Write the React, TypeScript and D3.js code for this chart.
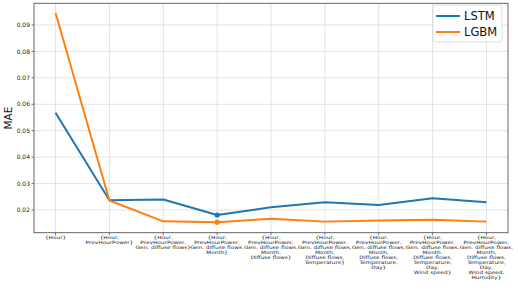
import React from "react";
import { scaleLinear, line } from "d3";

// feature sets (x tick labels, one line per row)
const featureSets = [
  ["{Hour}"],
  ["{Hour,", "PrevHourPower}"],
  ["{Hour,", "PrevHourPower,", "Gen. diffuse flows}"],
  ["{Hour,", "PrevHourPower,", "Gen. diffuse flows,", "Month}"],
  ["{Hour,", "PrevHourPower,", "Gen. diffuse flows,", "Month,", "Diffuse flows}"],
  ["{Hour,", "PrevHourPower,", "Gen. diffuse flows,", "Month,", "Diffuse flows,", "Temperature}"],
  ["{Hour,", "PrevHourPower,", "Gen. diffuse flows,", "Month,", "Diffuse flows,", "Temperature,", "Day}"],
  ["{Hour,", "PrevHourPower,", "Gen. diffuse flows,", "Month,", "Diffuse flows,", "Temperature,", "Day,", "Wind speed}"],
  ["{Hour,", "PrevHourPower,", "Gen. diffuse flows,", "Month,", "Diffuse flows,", "Temperature,", "Day,", "Wind speed,", "Humidity}"],
];

const lstm = [0.0568, 0.0237, 0.024, 0.0181, 0.021, 0.0229, 0.0219, 0.0244, 0.0229];
const lgbm = [0.0945, 0.0236, 0.0157, 0.0154, 0.0167, 0.0156, 0.016, 0.0163, 0.0156];
const yTicks = [0.02, 0.03, 0.04, 0.05, 0.06, 0.07, 0.08, 0.09];
const markerIndex = 3;

const W = 518;
const H = 300;
const left = 34, right = 508, top = 3.3, bottom = 232.7;

export default function App() {
  const x = scaleLinear().domain([-0.4, featureSets.length - 1 + 0.4]).range([left, right]);
  const y = scaleLinear().domain([0.01141, 0.0982]).range([bottom, top]);

  const path = line<number>()
    .x((d, i) => x(i))
    .y(d => y(d));

  const series = [
    { name: "LSTM", values: lstm, color: "#1f77b4" },
    { name: "LGBM", values: lgbm, color: "#ff7f0e" },
  ];

  const font = "DejaVu Sans, sans-serif";

  return (
    <svg width={W} height={H} style={{ position: "absolute", left: 0, top: 0, background: "#fff" }} fontFamily={font}>
      {/* grid */}
      <g stroke="#dcdcdc" strokeWidth={0.8}>
        {featureSets.map((_, i) => (
          <line key={"gx" + i} x1={x(i)} x2={x(i)} y1={top} y2={bottom} />
        ))}
        {yTicks.map(t => (
          <line key={"gy" + t} x1={left} x2={right} y1={y(t)} y2={y(t)} />
        ))}
      </g>

      {/* series */}
      {series.map(s => (
        <g key={s.name}>
          <path d={path(s.values) || ""} fill="none" stroke={s.color} strokeWidth={2} strokeLinejoin="round" />
          <circle cx={x(markerIndex)} cy={y(s.values[markerIndex])} r={2.6} fill={s.color} />
        </g>
      ))}

      {/* frame */}
      <rect x={left} y={top} width={right - left} height={bottom - top} fill="none" stroke="#555" strokeWidth={0.9} />

      {/* y axis */}
      {yTicks.map(t => (
        <g key={"yt" + t}>
          <line x1={left - 2.5} x2={left} y1={y(t)} y2={y(t)} stroke="#555" strokeWidth={0.8} />
          <text x={left - 4} y={y(t)} dy="0.35em" textAnchor="end" fontSize={6} fill="#222">
            {t.toFixed(2)}
          </text>
        </g>
      ))}
      <text
        transform={`translate(12,${(top + bottom) / 2}) rotate(-90)`}
        textAnchor="middle"
        fontSize={10.5}
        fill="#111"
      >
        MAE
      </text>

      {/* x axis (labels are squashed vertically like the source image) */}
      {featureSets.map((rows, i) => (
        <g key={"xt" + i}>
          <line x1={x(i)} x2={x(i)} y1={bottom} y2={bottom + 2.5} stroke="#555" strokeWidth={0.8} />
          <g transform={`translate(${x(i)},239) scale(1,0.78)`}>
            <text textAnchor="middle" fontSize={5.8} fill="#222">
              {rows.map((r, j) => (
                <tspan key={j} x={0} y={j * 6.4}>
                  {r}
                </tspan>
              ))}
            </text>
          </g>
        </g>
      ))}

      {/* legend */}
      <g>
        <rect x={433} y={5} width={69} height={37} rx={2.5} fill="#fff" fillOpacity={0.8} stroke="#d6d6d6" strokeWidth={0.8} />
        {series.map((s, i) => (
          <g key={"lg" + s.name}>
            <line x1={436} x2={460} y1={16 + i * 16} y2={16 + i * 16} stroke={s.color} strokeWidth={2} />
            <text x={464} y={16 + i * 16} dy="0.35em" fontSize={11.5} fill="#111">
              {s.name}
            </text>
          </g>
        ))}
      </g>
    </svg>
  );
}
